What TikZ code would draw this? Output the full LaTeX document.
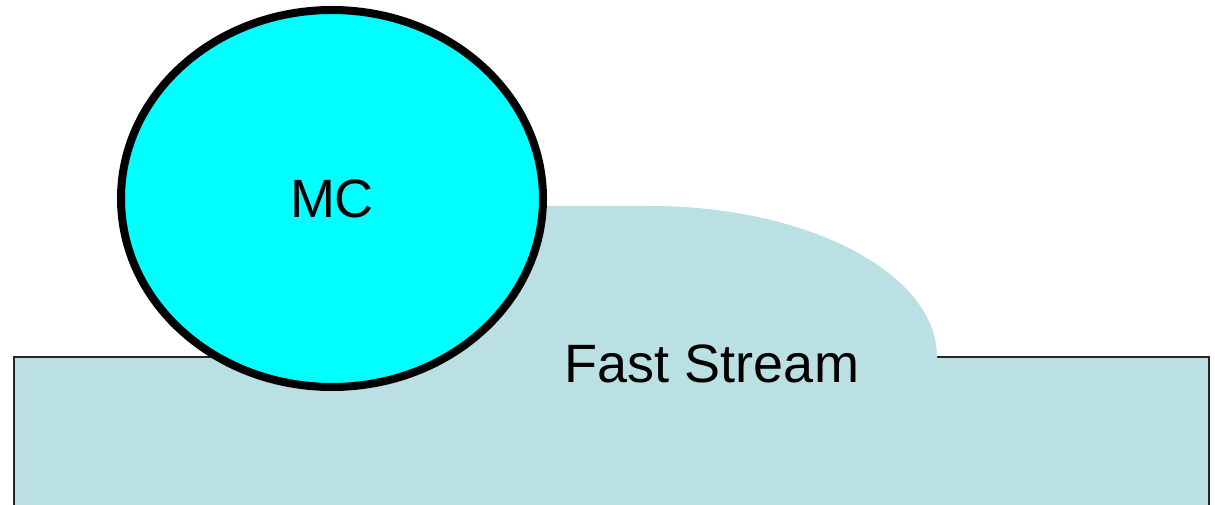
\documentclass[tikz,border=0pt]{standalone}
\usepackage{fontspec}
\setmainfont{Liberation Sans}
\usepackage{tikz}
\usetikzlibrary{calc,shapes.geometric,backgrounds}
\definecolor{streamblue}{RGB}{187,224,227}
\definecolor{mccyan}{RGB}{0,255,255}

\begin{document}
\begin{tikzpicture}[x=0.5pt,y=0.5pt,
                stream/.style={fill=streamblue,draw=black!85,line width=0.75pt},
                mcball/.style={ellipse,draw=black,fill=mccyan,line width=4pt,
                    minimum width=211pt,minimum height=188.5pt,inner sep=0pt},
                label/.style={font=\fontsize{27}{32}\selectfont,inner sep=0pt}]
                \useasboundingbox (0,0) rectangle (1215,504);
                \clip (0,0) rectangle (1215,504);
                \coordinate (Sa) at (14,147);
                \coordinate (Sb) at (1209,-20);
                \filldraw[stream] (Sa) rectangle (Sb);
                % bump of the stream, no outline, left part under MC
                \coordinate (Ba) at (420,140);
                \coordinate (Bt) at (650,298);
                \fill[streamblue] (Ba) |- (Bt)
                    arc[start angle=90,end angle=0,x radius=287,y radius=151]
                    |- (Ba) -- cycle;
                \node[label,anchor=base] (fast) at (712,122) {Fast Stream};
                \node[mcball,font=\fontsize{27}{32}\selectfont] (mc) at (332,305.5) {MC};
            \end{tikzpicture}
\end{document}
